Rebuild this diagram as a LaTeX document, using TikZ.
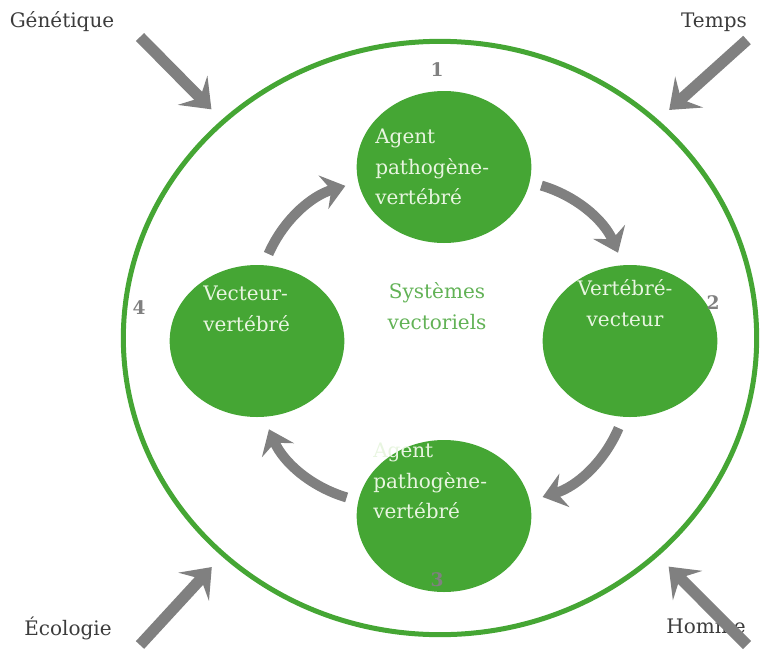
\documentclass[tikz,border=0pt]{standalone}
\usepackage{fontspec}
\setmainfont{DejaVu Serif}
\usetikzlibrary{shapes.geometric,arrows.meta}
\definecolor{leafgreen}{RGB}{69,166,52}
\definecolor{softgreen}{RGB}{98,178,86}
\definecolor{pale}{RGB}{232,245,224}
\definecolor{arrowgray}{RGB}{128,128,128}
\definecolor{labelgray}{RGB}{60,60,60}
\tikzset{
  blob/.style={ellipse, fill=leafgreen, minimum width=131pt, minimum height=114pt, inner sep=0pt},
  blobtext/.style={text=pale, align=left, font=\fontsize{15}{23}\selectfont, inner sep=0pt},
  factor/.style={text=labelgray, font=\fontsize{15}{18}\selectfont, inner sep=0pt},
  numtag/.style={text=arrowgray, font=\bfseries\fontsize{14}{18}\selectfont, inner sep=0pt},
  push/.style={draw=arrowgray, line width=8.5pt, -{Stealth[length=20pt,width=31pt,inset=8pt]}, shorten >=11pt},
  turnarrow/.style={draw=arrowgray, line width=7.5pt, -{Stealth[length=17pt,width=26pt,inset=6pt]}, shorten <=9pt, shorten >=10pt}
}
\begin{document}
\begin{tikzpicture}[x=0.75pt, y=-0.75pt]
\useasboundingbox (0,0) rectangle (763,653);
\node[ellipse, draw=leafgreen, line width=3.75pt, minimum width=475pt, minimum height=445pt, inner sep=0pt] (systeme) at (440,338) {};
\node[blob] (agentA) at (444,167) {};
\node[blob] (vertvect) at (630,341) {};
\node[blob] (agentB) at (444,516) {};
\node[blob] (vectvert) at (257,341) {};
\node[blobtext, anchor=west] (agentAtxt) at (375,167) {Agent\\pathogène-\\vertébré};
\node[blobtext, align=center] (vertvecttxt) at (625,303) {Vertébré-\\vecteur};
\node[blobtext, anchor=west] (agentBtxt) at (373,481) {Agent\\pathogène-\\vertébré};
\node[blobtext, anchor=west] (vectverttxt) at (203,309) {Vecteur-\\vertébré};
\node[blobtext, text=softgreen, align=center] (systemetxt) at (437,306) {Systèmes\\vectoriels};
\node[numtag] (n1) at (437,70) {1};
\node[numtag] (n2) at (713,303) {2};
\node[numtag] (n3) at (437,580) {3};
\node[numtag] (n4) at (139,308) {4};
\node[factor] (genetique) at (62,22) {Génétique};
\node[factor] (temps) at (714,22) {Temps};
\node[factor] (ecologie) at (68,628) {Écologie};
\node[factor] (homme) at (706,626) {Homme};
\coordinate (genS) at (140,37);
\coordinate (tempsS) at (747,40);
\coordinate (ecoS) at (140,645);
\coordinate (hommeS) at (747,645);
\draw[push] (genS) -- (systeme.135);
\draw[push] (tempsS) -- (systeme.45);
\draw[push] (ecoS) -- (systeme.225);
\draw[push] (hommeS) -- (systeme.315);
\draw[turnarrow] (vectvert.85) to[bend left=25] (agentA.190);
\draw[turnarrow] (agentA.-10) to[bend left=25] (vertvect.95);
\draw[turnarrow] (vertvect.-95) to[bend left=25] (agentB.10);
\draw[turnarrow] (agentB.170) to[bend left=25] (vectvert.-85);
\end{tikzpicture}
\end{document}
